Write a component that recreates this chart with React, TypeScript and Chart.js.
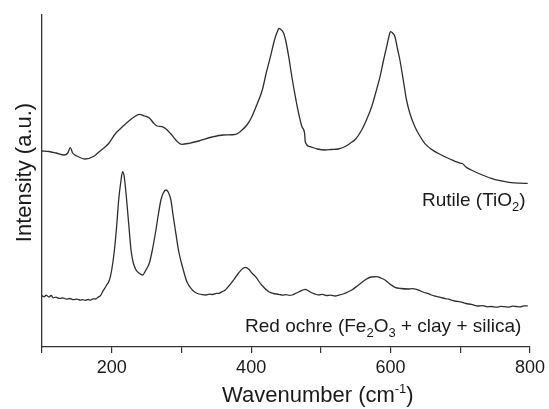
import React, { useEffect, useRef } from 'react';
import { Chart, registerables } from 'chart.js';

Chart.register(...registerables);

// ---- Data (intensity in arbitrary units) ----
const rutileWavenumber = [
  100, 110, 120, 132, 137, 140.5, 144, 150, 162, 175, 182, 195, 206, 215, 225, 232, 239.5, 247, 254, 260,
  265, 272, 278, 285, 292, 300.5, 311, 325, 344, 360, 378, 387, 395, 401, 408, 416, 422, 427.7, 432, 434.9,
  438, 439.6, 442, 446.7, 450, 453.9, 458, 463.4, 468, 472.9, 476.7, 477.6, 484.8, 495, 506, 515, 525, 535,
  542, 550, 558.6, 566, 572.9, 579, 584.9, 590, 594.4, 597.5, 600, 603, 606.3, 610, 613.4, 618, 622.9, 628,
  634.9, 642, 649, 658, 668, 685, 701, 703, 708, 715.7, 730, 744.3, 760, 772.9, 785, 796.7,
];
const rutileIntensity = [
  196, 195.5, 194, 192, 194, 199.3, 194, 191, 188, 191, 195.3, 203, 214, 220, 226.3, 230, 232.7, 231, 229, 224,
  221, 220.3, 218, 213, 207, 202.7, 203.7, 206, 210, 212, 212.7, 217, 223, 230.3, 242, 257, 275, 290.3, 303, 310.3,
  316, 318.7, 318, 313.7, 305, 290.3, 272, 250.3, 234, 220.3, 213.7, 205.3, 200.3, 198, 197, 197.5, 198, 200.5,
  203.7, 208, 217, 228, 240.3, 255, 270.3, 287, 300.3, 310, 315.3, 314, 310.3, 298, 287, 268, 247, 233,
  220.3, 211, 203.7, 198, 193.7, 188, 183.7, 183.5, 180, 177, 172.5, 168.7, 166, 164.3, 163.8, 163.7,
];

const ochreWavenumber = [
  100, 103, 106, 110, 113, 116, 120, 125, 130, 135, 140, 145, 150, 155, 158.6, 162, 166, 170, 173, 177,
  180, 184, 187, 192, 196.7, 200, 203.9, 207, 210, 213, 215.7, 218, 221.4, 225, 227.7, 231, 234.9, 240,
  244.3, 249, 253.9, 258, 263.4, 267, 270.6, 274, 277.7, 281, 284.9, 288, 292, 296, 301.4, 308, 315.7, 320,
  325, 330, 334.9, 340, 345, 350, 353.9, 358, 363, 368, 373, 382, 388, 392, 397, 401, 406.3, 415, 425.3,
  432, 439.6, 445, 450, 455, 458.7, 463, 468, 473, 477.7, 482, 486, 491, 496.7, 502, 508, 514, 520.6, 526,
  532, 538, 544.4, 554, 563.4, 572, 580, 586, 592, 600, 606.3, 615, 625, 631, 637.3, 643, 648, 653, 658.6,
  666, 675, 683, 692, 700, 708, 716, 725.3, 732, 739, 745, 752, 758, 763.4, 770, 775, 780, 786, 791, 796.7,
];
const ochreIntensity = [
  51.3, 50.2, 51.8, 50, 51.5, 49.2, 49.8, 48.6, 49.2, 47.8, 48.5, 47.3, 47.9, 46.8, 47.4, 46.6, 47.5, 46.9, 48.2, 48,
  49.5, 51.5, 55.3, 61, 67, 77, 97, 120, 147, 165, 175.3, 170, 147, 118, 97, 84, 77, 73.5,
  72, 77, 83.7, 96, 117, 133, 147, 154, 157, 155, 147, 132, 113.7, 96, 80.3, 65, 57, 54.5,
  53, 52.3, 52, 52.8, 52.5, 53.6, 53.7, 55.2, 57, 61, 65.3, 74, 78.5, 79.7, 77.5, 74, 70.3, 62, 55.3,
  53.5, 52.7, 51.8, 52.4, 51.6, 52, 53.3, 55, 56.6, 57.7, 56.2, 54.5, 53.2, 52, 52.6, 51.5, 51.9, 51, 51.8,
  53, 54.8, 57, 62, 67, 70, 70.3, 69, 67, 62.5, 59.7, 58.5, 58, 58.4, 57.7, 56, 54.5, 53.6, 52,
  50.6, 49, 47.8, 46, 45.2, 43.5, 42.6, 41, 41.4, 40.2, 40.5, 39.8, 40.6, 40.3, 39.9, 40.8, 40.5, 40.1, 41.2, 41,
];

const xTickLabels = [200, 400, 600, 800];
const yTitle = 'Intensity (a.u.)';
const xTitleRuns = ['Wavenumber (cm', '-1', ')'];
const rutileLabelRuns = ['Rutile (TiO', '2', ')'];
const ochreLabelRuns = ['Red ochre (Fe', '2', 'O', '3', ' + clay + silica)'];

const FONT = "Arial, 'Liberation Sans', Helvetica, sans-serif";
const INK = '#1a1a1a';
const LINE = '#2e2e2e';

type Run = { text: string; size: number; dy: number };

function drawRuns(ctx: CanvasRenderingContext2D, runs: Run[], x: number, y: number) {
  let cx = x;
  for (const r of runs) {
    ctx.font = `${r.size}px ${FONT}`;
    ctx.fillText(r.text, cx, y + r.dy);
    cx += ctx.measureText(r.text).width;
  }
}

const textPlugin = {
  id: 'spectraText',
  afterDraw(chart: any) {
    const ctx: CanvasRenderingContext2D = chart.ctx;
    const area = chart.chartArea;
    ctx.save();
    ctx.fillStyle = INK;
    ctx.textAlign = 'left';
    ctx.textBaseline = 'alphabetic';

    // x-axis title with superscript
    drawRuns(
      ctx,
      [
        { text: xTitleRuns[0], size: 22, dy: 0 },
        { text: xTitleRuns[1], size: 13, dy: -9 },
        { text: xTitleRuns[2], size: 22, dy: 0 },
      ],
      area.left + 180,
      401.5
    );

    // series labels with subscripts
    drawRuns(
      ctx,
      [
        { text: rutileLabelRuns[0], size: 19, dy: 0 },
        { text: rutileLabelRuns[1], size: 13, dy: 5 },
        { text: rutileLabelRuns[2], size: 19, dy: 0 },
      ],
      area.left + 380,
      206
    );
    drawRuns(
      ctx,
      [
        { text: ochreLabelRuns[0], size: 19, dy: 0 },
        { text: ochreLabelRuns[1], size: 13, dy: 5 },
        { text: ochreLabelRuns[2], size: 19, dy: 0 },
        { text: ochreLabelRuns[3], size: 13, dy: 5 },
        { text: ochreLabelRuns[4], size: 19, dy: 0 },
      ],
      area.left + 203,
      331.5
    );

    // y-axis title
    ctx.translate(24.5, 172.5);
    ctx.rotate(-Math.PI / 2);
    ctx.textAlign = 'center';
    ctx.textBaseline = 'middle';
    ctx.font = `22px ${FONT}`;
    ctx.fillText(yTitle, 0, 0);
    ctx.restore();
  },
};

export default function App() {
  const canvasRef = useRef<HTMLCanvasElement | null>(null);

  useEffect(() => {
    document.body.style.margin = '0';
    const canvas = canvasRef.current;
    if (!canvas) return;
    const chart = new Chart(canvas, {
      type: 'line',
      data: {
        datasets: [
          {
            label: 'Rutile (TiO2)',
            data: rutileWavenumber.map((x, i) => ({ x, y: rutileIntensity[i] })),
            borderColor: LINE,
            borderWidth: 1.3,
            pointRadius: 0,
            fill: false,
            cubicInterpolationMode: 'monotone',
          },
          {
            label: 'Red ochre',
            data: ochreWavenumber.map((x, i) => ({ x, y: ochreIntensity[i] })),
            borderColor: LINE,
            borderWidth: 1.3,
            pointRadius: 0,
            fill: false,
            cubicInterpolationMode: 'monotone',
          },
        ],
      },
      options: {
        animation: false,
        responsive: false,
        devicePixelRatio: 1,
        layout: { padding: { left: 0, right: 18, top: 15, bottom: 0 } },
        plugins: { legend: { display: false }, tooltip: { enabled: false } },
        scales: {
          x: {
            type: 'linear',
            min: 100,
            max: 800,
            ticks: {
              stepSize: 100,
              autoSkip: false,
              maxRotation: 0,
              color: INK,
              padding: 4,
              font: { family: FONT, size: 18 },
              callback: (v: any) => (xTickLabels.includes(Number(v)) ? String(v) : ''),
            },
            grid: {
              display: true,
              drawOnChartArea: false,
              drawTicks: true,
              tickLength: 6,
              color: '#333',
              lineWidth: 1.2,
            },
            border: { display: true, color: '#333', width: 1.3 },
            afterFit: (s: any) => {
              s.height = 62;
            },
          },
          y: {
            type: 'linear',
            min: 0,
            max: 332,
            ticks: { display: false },
            grid: { display: false, drawTicks: false },
            border: { display: true, color: '#333', width: 1.3 },
            afterFit: (s: any) => {
              s.width = 42;
            },
          },
        },
      } as any,
      plugins: [textPlugin],
    });
    return () => chart.destroy();
  }, []);

  return (
    <div style={{ position: 'absolute', left: 0, top: 0, width: 549, height: 409, background: '#fff' }}>
      <canvas ref={canvasRef} width={549} height={409} />
    </div>
  );
}
